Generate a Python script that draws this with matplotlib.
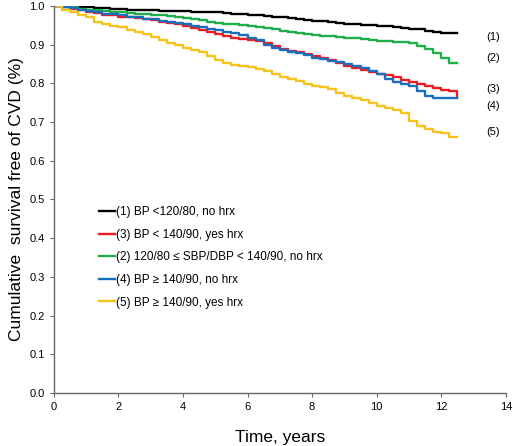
import matplotlib
matplotlib.use("Agg")
import matplotlib.pyplot as plt

plt.rcParams['font.family'] = ['Liberation Sans', 'DejaVu Sans']

# follow-up times (years) at which the curves were read
years = [0, 0.25, 0.5, 0.75, 1, 1.25, 1.5, 1.75, 2, 2.25, 2.5, 2.75, 3, 3.25,
         3.5, 3.75, 4, 4.25, 4.5, 4.75, 5, 5.25, 5.5, 5.75, 6, 6.25, 6.5,
         6.75, 7, 7.25, 7.5, 7.75, 8, 8.25, 8.5, 8.75, 9, 9.25, 9.5, 9.75,
         10, 10.25, 10.5, 10.75, 11, 11.25, 11.5, 11.75, 12, 12.25, 12.5]

# survival
s1 = [1.0, .999, .999, .998, .997, .995, .994, .992, .991, .990, .989, .989,
      .988, .987, .987, .986, .986, .985, .985, .984, .983, .981, .980, .979,
      .977, .975, .973, .971, .970, .968, .966, .964, .962, .960, .958, .955,
      .953, .952, .951, .950, .948, .947, .945, .943, .941, .939, .936, .933,
      .930, .930, .930]
s2 = [1.0, .998, .996, .993, .990, .989, .987, .985, .983, .982, .980, .978,
      .977, .975, .973, .970, .968, .966, .963, .959, .956, .954, .952, .950,
      .948, .946, .943, .939, .935, .932, .929, .927, .925, .923, .921, .920,
      .918, .916, .914, .912, .910, .909, .907, .906, .904, .897, .889, .879,
      .865, .853, .851]
s3 = [1.0, .997, .993, .989, .985, .981, .977, .975, .972, .970, .968, .966,
      .963, .959, .955, .952, .948, .943, .938, .933, .928, .923, .918, .915,
      .912, .909, .905, .896, .888, .884, .880, .875, .870, .865, .860, .852,
      .845, .840, .835, .830, .824, .820, .815, .809, .803, .798, .792, .787,
      .782, .780, .765]
s4 = [1.0, .997, .994, .990, .987, .983, .980, .978, .975, .972, .970, .967,
      .965, .962, .959, .956, .953, .949, .945, .941, .937, .933, .930, .925,
      .918, .912, .898, .892, .886, .881, .877, .872, .866, .862, .858, .854,
      .850, .845, .840, .832, .824, .810, .803, .798, .792, .780, .768, .763,
      .763, .763, .763]
s5 = [1.0, .990, .983, .977, .972, .958, .953, .949, .945, .938, .932, .926,
      .920, .912, .905, .898, .892, .886, .880, .870, .860, .852, .847, .844,
      .842, .837, .832, .823, .815, .810, .805, .799, .793, .789, .785, .776,
      .768, .762, .757, .750, .742, .736, .730, .724, .702, .690, .682, .675,
      .672, .662, .662]

labels = ["(1) BP <120/80, no hrx",
          "(3) BP < 140/90, yes hrx",
          "(2) 120/80 \u2264 SBP/DBP < 140/90, no hrx",
          "(4) BP \u2265 140/90, no hrx",
          "(5) BP \u2265 140/90, yes hrx"]
end_tags = ["(1)", "(2)", "(3)", "(4)", "(5)"]
tag_y = [0.92, 0.866, 0.785, 0.742, 0.675]

fig = plt.figure(figsize=(5.13, 4.46), dpi=100)
ax = fig.add_axes([0.105, 0.119, 0.881, 0.868])

curves = [(s1, "black"), (s3, "#ec1c24"), (s2, "#1fae4b"),
          (s4, "#1a6fbd"), (s5, "#f8c21c")]
for (s, c), lab in zip(curves, labels):
    ax.step(years, s, where="post", color=c, lw=1.7, label=lab)

for tag, y in zip(end_tags, tag_y):
    ax.text(13.4, y, tag, fontsize=8, va="center", ha="left")

ax.set_xlim(0, 14)
ax.set_ylim(0, 1.0)
ax.set_xticks(range(0, 15, 2))
ax.set_yticks([i / 10 for i in range(11)])
ax.set_yticklabels([f"{i / 10:.1f}" for i in range(11)])
ax.tick_params(labelsize=8, color="#666666", length=3, width=0.8)
for side in ["top", "right"]:
    ax.spines[side].set_visible(False)
for side in ["left", "bottom"]:
    ax.spines[side].set_color("#666666")
    ax.spines[side].set_linewidth(1.0)

ax.set_xlabel("Time, years", fontsize=12.5, labelpad=13)
ax.set_ylabel("Cumulative  survival free of CVD (%)", fontsize=12.5, labelpad=4)

ax.legend(loc="upper left", bbox_to_anchor=(0.09, 0.495), frameon=False,
          fontsize=8.5, handlelength=1.3, handletextpad=0.1, labelspacing=0.9,
          borderaxespad=0)

fig.savefig("out.png", dpi=100)
